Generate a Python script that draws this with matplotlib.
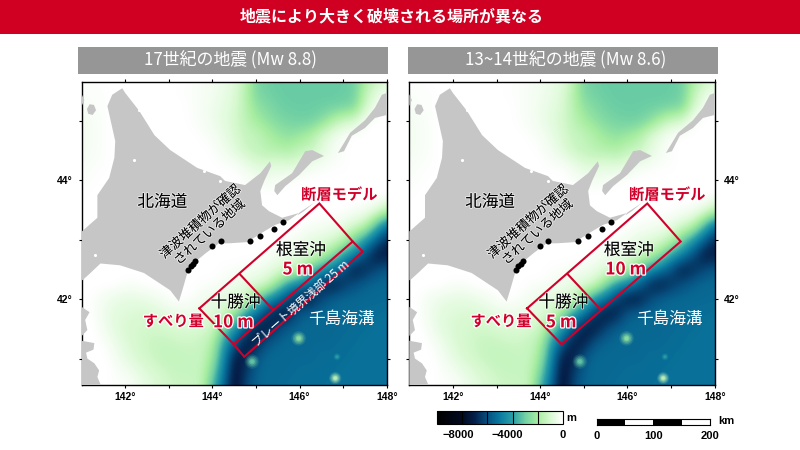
import numpy as np
import matplotlib
matplotlib.use("Agg")
import matplotlib.pyplot as plt
import matplotlib.patheffects as pe
from matplotlib.colors import LinearSegmentedColormap, Normalize
from matplotlib.patches import Rectangle

plt.rcParams['font.family'] = ['Noto Sans CJK JP', 'DejaVu Sans']

# -----------------------------
# 1) Data
# -----------------------------

grid_lon = np.arange(141, 148.01, 0.25)
grid_lat = [45.75, 45.5, 45.25, 45.0, 44.75, 44.5, 44.25, 44.0, 43.75, 43.5, 43.25,
            43.0, 42.75, 42.5, 42.25, 42.0, 41.75, 41.5, 41.25, 41.0, 40.75, 40.5]

# water depth in hundreds of metres, one row per latitude, one column per longitude
depth = [
    [1, 1, 0, 0, 0, 0, 0, 0, 0, 0, 1, 2, 3, 5, 7, 14, 28, 30, 31, 31, 31, 31, 31, 31, 31, 30, 20, 14, 10],
    [1, 1, 1, 0, 0, 0, 0, 0, 0, 1, 1, 2, 3, 5, 8, 16, 28, 30, 31, 31, 31, 31, 31, 31, 31, 30, 16, 8, 4],
    [2, 1, 1, 0, 0, 0, 0, 0, 0, 0, 1, 2, 4, 6, 9, 16, 24, 27, 30, 31, 31, 31, 31, 31, 30, 28, 12, 3, 0],
    [3, 2, 1, 0, 0, 0, 0, 0, 0, 0, 1, 2, 4, 7, 10, 15, 20, 24, 27, 29, 30, 30, 26, 18, 12, 10, 2, 0, 0],
    [3, 2, 1, 0, 0, 0, 0, 0, 0, 0, 0, 1, 2, 5, 9, 13, 14, 18, 22, 24, 22, 18, 10, 5, 1, 0, 0, 0, 0],
    [3, 2, 1, 0, 0, 0, 0, 0, 0, 0, 0, 0, 1, 3, 7, 12, 14, 16, 17, 18, 14, 13, 8, 3, 1, 0, 0, 0, 0],
    [2, 1, 1, 0, 0, 0, 0, 0, 0, 0, 0, 0, 0, 1, 1, 4, 8, 8, 7, 8, 7, 3, 2, 1, 1, 0, 0, 0, 0],
    [1, 1, 0, 0, 0, 0, 0, 0, 0, 0, 0, 0, 0, 0, 0, 1, 2, 3, 2, 1, 0, 0, 0, 0, 0, 0, 0, 0, 0],
    [1, 0, 0, 0, 0, 0, 0, 0, 0, 0, 0, 0, 0, 0, 0, 0, 0, 0, 0, 0, 0, 0, 0, 0, 0, 0, 0, 0, 0],
    [0, 0, 0, 0, 0, 0, 0, 0, 0, 0, 0, 0, 0, 0, 0, 0, 0, 0, 0, 0, 0, 0, 0, 0, 0, 1, 2, 5, 14],
    [0, 0, 0, 0, 0, 0, 0, 0, 0, 0, 0, 0, 0, 0, 0, 0, 0, 0, 0, 0, 0, 1, 2, 3, 5, 9, 14, 32, 50],
    [0, 0, 0, 0, 0, 0, 0, 0, 0, 0, 0, 0, 0, 0, 0, 0, 0, 0, 0, 1, 3, 6, 7, 9, 14, 28, 40, 55, 68],
    [0, 0, 0, 0, 0, 0, 0, 0, 0, 0, 0, 0, 0, 0, 0, 0, 0, 1, 4, 6, 8, 10, 14, 24, 38, 47, 60, 72, 72],
    [0, 0, 0, 0, 0, 0, 0, 0, 0, 0, 0, 0, 0, 1, 1, 2, 3, 5, 7, 10, 14, 30, 42, 50, 60, 72, 68, 62, 58],
    [0, 0, 0, 0, 1, 1, 0, 0, 0, 0, 0, 1, 1, 2, 4, 6, 8, 11, 25, 40, 47, 55, 68, 72, 66, 60, 56, 54, 54],
    [0, 1, 3, 5, 6, 6, 5, 3, 1, 0, 1, 3, 5, 7, 9, 10, 28, 42, 52, 64, 72, 72, 62, 56, 54, 54, 54, 54, 54],
    [0, 1, 4, 7, 8, 9, 9, 8, 6, 5, 5, 6, 8, 10, 22, 40, 50, 66, 73, 70, 58, 55, 54, 54, 54, 54, 53, 53, 52],
    [0, 0, 3, 7, 9, 10, 11, 11, 10, 9, 9, 10, 12, 28, 42, 58, 72, 72, 62, 56, 54, 54, 54, 54, 54, 53, 53, 52, 52],
    [0, 0, 1, 4, 8, 10, 12, 13, 13, 12, 12, 13, 18, 40, 58, 72, 70, 58, 55, 54, 54, 54, 54, 54, 53, 53, 52, 52, 52],
    [0, 0, 0, 2, 6, 9, 11, 13, 14, 14, 13, 13, 22, 45, 72, 70, 58, 54, 54, 54, 54, 54, 53, 53, 53, 52, 52, 52, 52],
    [0, 0, 0, 1, 2, 5, 8, 10, 12, 13, 13, 14, 28, 50, 75, 65, 56, 54, 54, 54, 53, 53, 53, 53, 52, 52, 52, 52, 52],
    [0, 0, 0, 1, 1, 3, 6, 9, 11, 12, 12, 14, 35, 55, 76, 62, 55, 54, 54, 53, 53, 53, 53, 52, 52, 52, 52, 52, 52],
]

seamount_lon = [145.98, 144.91, 146.82, 146.86]
seamount_lat = [41.34, 40.95, 40.67, 41.03]
seamount_depth = [2500, 3200, 1500, 4000]
seamount_extent = [1.0, 1.0, 0.7, 0.25]

hokkaido = [
    (141.0, 43.14), (141.02, 43.15), (141.36, 43.37), (141.36, 43.75), (141.63, 44.04), (141.75, 44.38),
    (141.77, 44.66), (141.59, 45.25), (141.70, 45.44), (141.93, 45.55), (142.0, 45.47), (142.32, 45.17),
    (142.67, 44.76), (143.03, 44.51), (143.65, 44.21), (144.18, 44.07), (144.29, 43.99), (144.75, 43.92),
    (145.10, 44.12), (145.32, 44.32), (145.35, 44.24), (145.19, 43.99), (145.10, 43.82), (145.14, 43.58),
    (145.30, 43.48), (145.60, 43.37), (145.99, 43.45), (145.76, 43.33), (145.44, 43.25), (145.14, 43.12),
    (144.80, 42.96), (144.38, 42.94), (144.15, 42.94), (143.84, 42.77), (143.61, 42.63), (143.42, 42.43),
    (143.31, 42.15), (143.23, 41.96), (143.03, 42.15), (142.43, 42.44), (141.88, 42.57), (141.43, 42.60),
    (141.20, 42.44), (141.02, 42.32), (141.0, 42.32),
]
habomai = [(146.0, 43.46), (146.33, 43.62), (146.10, 43.48), (145.95, 43.41)]
kunashiri = [
    (145.42, 43.82), (145.44, 43.92), (145.83, 44.12), (146.13, 44.49), (146.29, 44.51), (146.56, 44.41),
    (146.29, 44.32), (145.99, 44.09), (145.67, 43.90), (145.49, 43.75),
]
etorofu = [
    (146.88, 44.46), (146.98, 44.58), (147.16, 44.80), (147.50, 45.01), (147.73, 45.22), (147.89, 45.44),
    (148.0, 45.47), (148.0, 45.10), (147.73, 45.05), (147.50, 44.88), (147.20, 44.75), (147.02, 44.49),
]
rishiri = [(141.12, 45.2), (141.18, 45.28), (141.28, 45.27), (141.33, 45.18), (141.25, 45.1), (141.15, 45.12)]
rebun = [(141.0, 45.45), (141.06, 45.35), (141.0, 45.25)]
oshima = [(141.0, 41.87), (141.18, 41.78), (141.08, 41.65), (141.13, 41.48), (141.0, 41.38)]
honshu = [
    (141.0, 41.30), (141.29, 41.26), (141.27, 41.15), (141.10, 41.10), (141.13, 41.0), (141.29, 40.92),
    (141.40, 40.80), (141.36, 40.69), (141.47, 40.5), (141.0, 40.5),
]
land_parts = [hokkaido, habomai, kunashiri, etorofu, rishiri, rebun, oshima, honshu]

# little white lakes on the land
lake_lon = [142.32, 142.2, 143.8, 144.18, 141.31]
lake_lat = [45.18, 44.34, 44.16, 43.99, 42.74]

dot_lon = [143.45, 143.50, 143.55, 143.60, 144.0, 144.19, 144.86, 145.09, 145.41, 145.63]
dot_lat = [42.49, 42.55, 42.60, 42.65, 42.90, 42.98, 42.98, 43.06, 43.18, 43.30]

# fault model corners
fault_west = (143.70, 41.845)
fault_mid_north = (144.63, 42.42)
fault_north = (146.455, 43.61)
fault_east = (147.22, 42.97)
fault_mid_south = (145.38, 41.83)
fault_south = (144.49, 41.24)
shallow_east = (147.45, 42.80)
shallow_south = (144.73, 41.03)

lon_ticks = [142, 144, 146, 148]
lat_ticks = [42, 44]
lon_minor = [143, 145, 147]
lat_minor = [41, 43, 45]

panel_titles = ['17世紀の地震 (Mw 8.8)', '13~14世紀の地震 (Mw 8.6)']
tokachi_slip = ['10 m', '5 m']
nemuro_slip = ['5 m', '10 m']

cbar_ticks = [-8000, -4000, 0]
cbar_lines = [-8000, -6000, -4000, -2000]
scale_km = [0, 50, 100, 150, 200]
scale_labels = [0, 100, 200]

# --------------------------------------------
# 2) Colours and layout
# --------------------------------------------

RED = '#d0002a'
W, H = 800, 450

ocean_cmap = LinearSegmentedColormap.from_list('bathy', [
    (0.0, '#000000'), (0.2, '#020a20'), (0.3, '#04204a'), (0.4, '#065080'),
    (0.5, '#0a7aa0'), (0.6, '#2a9fa8'), (0.7, '#70d0a4'), (0.8, '#a6eda0'),
    (0.9, '#d6f9cf'), (1.0, '#ffffff'),
])
norm = Normalize(-10000, 0)


def px_axes(fig, x0, y0, x1, y1):
    """Axes from pixel box, y measured from the top of the figure."""
    return fig.add_axes([x0 / W, 1 - y1 / H, (x1 - x0) / W, (y1 - y0) / H])


fig = plt.figure(figsize=(8, 4.5), dpi=100, facecolor='white')

# full figure overlay in pixels for the banners
bg = fig.add_axes([0, 0, 1, 1])
bg.set_xlim(0, W)
bg.set_ylim(H, 0)
bg.axis('off')
bg.add_patch(Rectangle((0, 0), W, 34, color='#cf0022', lw=0))
bg.text(391.5, 16.5, '地震により大きく破壊される場所が異なる', color='white', fontsize=11.5,
        fontweight='bold', ha='center', va='center')
for x0, x1, xc, title in zip([78, 408], [388, 718], [230, 566], panel_titles):
    bg.add_patch(Rectangle((x0, 47), x1 - x0, 27, color='#969696', lw=0))
    bg.text(xc, 60, title, color='white', fontsize=12.2, ha='center', va='center')

# --------------------------------------------
# 3) Map panels
# --------------------------------------------

elevation = -np.array(depth) * 100.0
halo = [pe.withStroke(linewidth=1.8, foreground='white')]
soft = [pe.withStroke(linewidth=1.2, foreground='#ffffffaa')]
image = None

for i, (x0, x1) in enumerate([(81.7, 386.7), (409.3, 714.7)]):
    ax = px_axes(fig, x0, 82.3, x1, 385.3)
    image = ax.imshow(elevation, cmap=ocean_cmap, norm=norm, interpolation='bicubic', aspect='auto',
                      extent=[grid_lon[0] - 0.125, grid_lon[-1] + 0.125, grid_lat[-1] - 0.125, grid_lat[0] + 0.125])
    for size, alpha in [(110, 0.15), (70, 0.25), (40, 0.35), (18, 0.6), (7, 0.8)]:
        ax.scatter(seamount_lon, seamount_lat, c=-np.array(seamount_depth), cmap=ocean_cmap, norm=norm,
                   s=size * np.array(seamount_extent), alpha=alpha, linewidths=0, zorder=2)
    for part in land_parts:
        ax.fill(*zip(*part), color='#c6c6c6', lw=0, zorder=3)
    ax.scatter(lake_lon, lake_lat, s=5, color='white', lw=0, zorder=4)
    ax.scatter(dot_lon, dot_lat, s=19, color='black', lw=0, zorder=5)

    # fault outlines
    outline = [fault_west, fault_north, fault_east, fault_south, fault_west]
    ax.plot(*zip(*outline), color=RED, lw=1.5, zorder=6, solid_joinstyle='miter')
    ax.plot(*zip(fault_mid_north, fault_mid_south), color=RED, lw=1.5, zorder=6)
    if i == 0:
        ax.plot(*zip(fault_east, shallow_east, shallow_south, fault_south), color=RED, lw=1.5, zorder=6,
                solid_joinstyle='miter')
        ax.text(146.04, 41.93, 'プレート境界浅部 25 m', color='white', fontsize=8.6, rotation=41,
                rotation_mode='anchor', ha='center', va='center', zorder=7)

    ax.text(142.85, 43.63, '北海道', fontsize=12, ha='center', va='center', zorder=7, path_effects=soft)
    ax.text(143.83, 43.21, '津波堆積物が確認\nされている地域', fontsize=9.3, rotation=42, rotation_mode='anchor',
            ha='center', va='center', linespacing=1.1, zorder=7, path_effects=soft)
    ax.text(146.91, 43.76, '断層モデル', color=RED, fontsize=11, fontweight='bold', ha='center', va='center',
            zorder=7, path_effects=halo)
    ax.text(146.03, 42.82, '根室沖', fontsize=12, ha='center', va='center', zorder=7, path_effects=soft)
    ax.text(145.96, 42.50, nemuro_slip[i], color=RED, fontsize=12.4, fontweight='bold', ha='center', va='center',
            zorder=7, path_effects=halo)
    ax.text(144.53, 41.94, '十勝沖', fontsize=12, ha='center', va='center', zorder=7, path_effects=soft)
    ax.text(144.48, 41.61, tokachi_slip[i], color=RED, fontsize=12.4, fontweight='bold', ha='center', va='center',
            zorder=7, path_effects=halo)
    ax.text(143.10, 41.63, 'すべり量', color=RED, fontsize=11, fontweight='bold', ha='center', va='center',
            zorder=7, path_effects=halo)
    ax.text(146.97, 41.65, '千島海溝', color='white', fontsize=12, ha='center', va='center', zorder=7)

    ax.set_xlim(141, 148)
    ax.set_ylim(40.55, 45.65)
    ax.set_xticks(lon_ticks)
    ax.set_xticklabels([f'{v}°' for v in lon_ticks], family='Liberation Sans', fontsize=7.5, fontweight='bold')
    ax.set_yticks(lat_ticks)
    ax.set_yticklabels([f'{v}°' for v in lat_ticks], family='Liberation Sans', fontsize=7.5, fontweight='bold')
    ax.set_xticks(lon_minor, minor=True)
    ax.set_yticks(lat_minor, minor=True)
    ax.tick_params(which='both', top=True, right=True, direction='out', length=2.5, width=0.8, pad=2)
    ax.tick_params(axis='y', which='major', pad=4, labelleft=(i == 0), labelright=(i == 1))
    for spine in ax.spines.values():
        spine.set_linewidth(1.0)

# --------------------------------------------
# 4) Colour bar and scale bar
# --------------------------------------------

cax = px_axes(fig, 437.3, 411, 562.7, 424.3)
cbar = fig.colorbar(image, cax=cax, orientation='horizontal')
cbar.set_ticks([])
for value in cbar_lines:
    cax.axvline(value, color='black', lw=0.8)
cbar.outline.set_linewidth(0.8)
for value, xc in zip(cbar_ticks, [458, 507, 563]):
    bg.text(xc, 435, f'{value}'.replace('-', '\u2212'), fontsize=8, fontweight='bold', family='Liberation Sans',
            ha='center', va='center')
bg.text(571, 418, 'm', fontsize=8, fontweight='bold', family='Liberation Sans', ha='center', va='center')

sax = px_axes(fig, 596.7, 419.3, 710, 425)
sax.set_xlim(scale_km[0], scale_km[-1])
sax.set_ylim(0, 1)
for k, (a, b) in enumerate(zip(scale_km[:-1], scale_km[1:])):
    sax.barh(0.5, b - a, left=a, height=1, color='black' if k % 2 == 0 else 'white', lw=0)
sax.set_yticks([])
sax.set_xticks(scale_labels)
sax.set_xticklabels(scale_labels, family='Liberation Sans', fontsize=8, fontweight='bold')
sax.tick_params(length=0, pad=4)
for spine in sax.spines.values():
    spine.set_linewidth(0.8)
bg.text(726, 421, 'km', fontsize=8, fontweight='bold', family='Liberation Sans', ha='center', va='center')

fig.savefig('out.png', dpi=100)
